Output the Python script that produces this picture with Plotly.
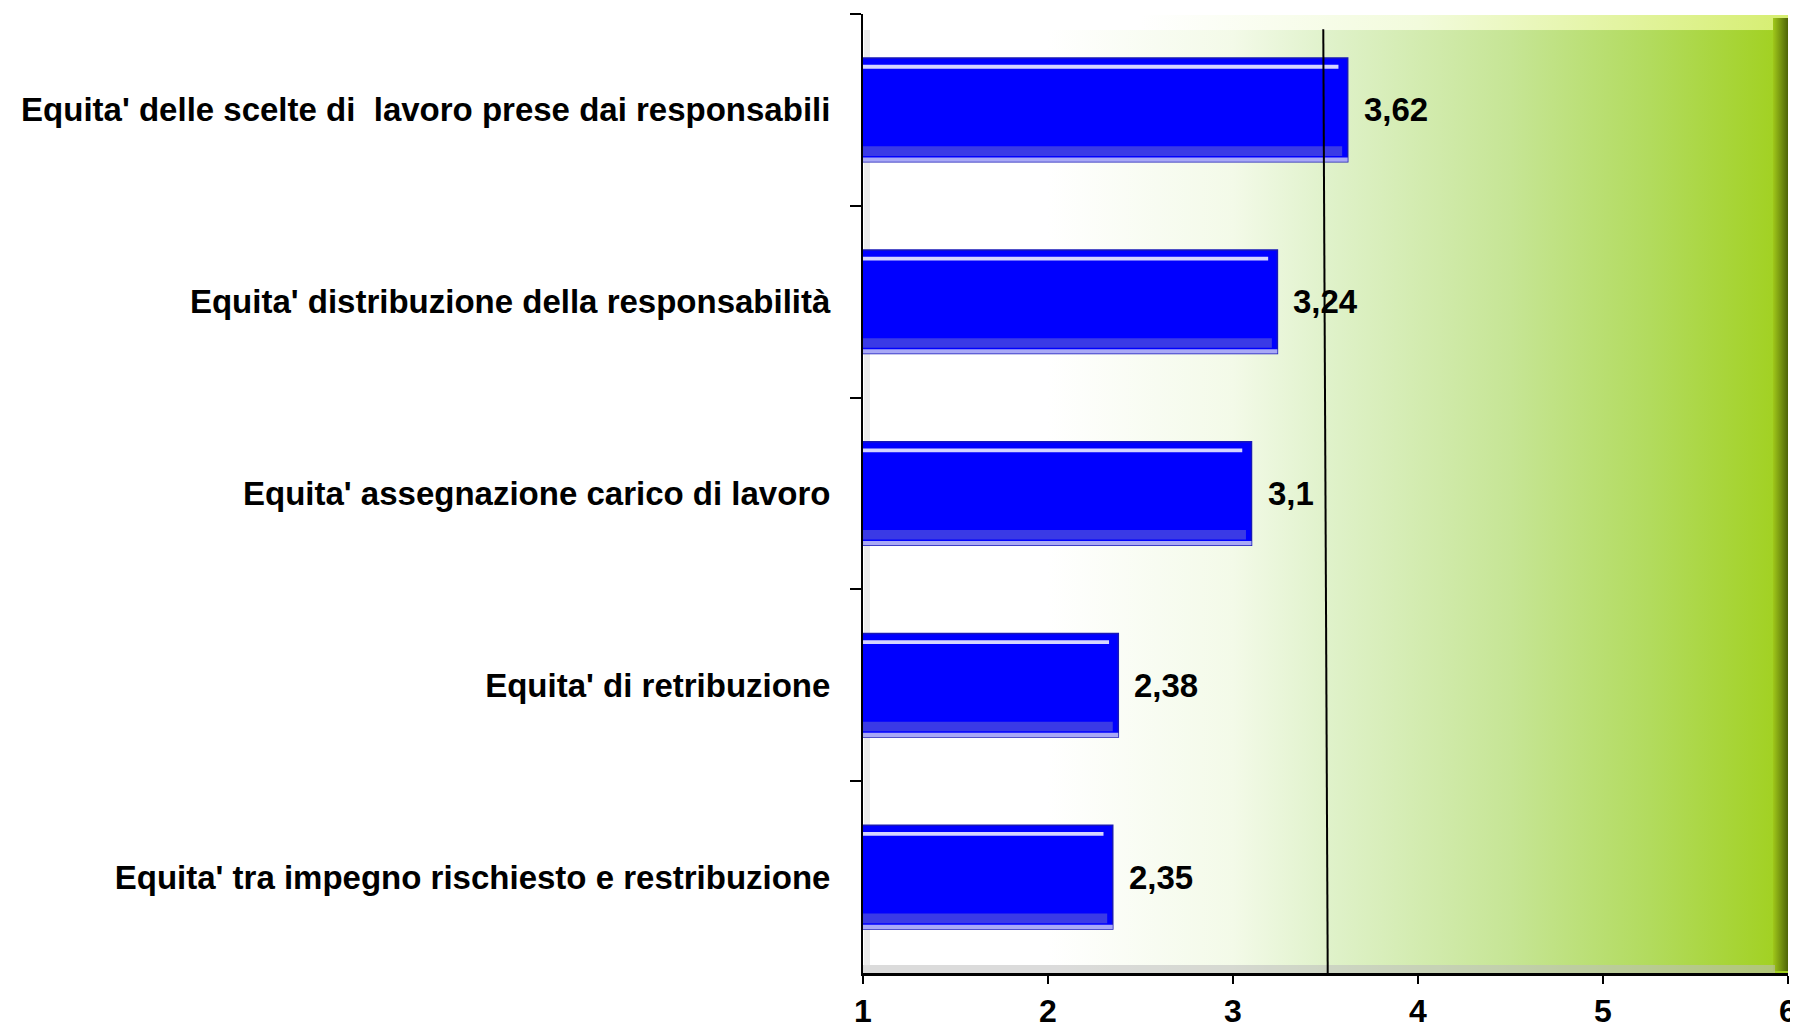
import base64
import plotly.graph_objects as go

# categories top to bottom, mean scores
categories = [
    "Equita' delle scelte di  lavoro prese dai responsabili",
    "Equita' distribuzione della responsabilità",
    "Equita' assegnazione carico di lavoro",
    "Equita' di retribuzione",
    "Equita' tra impegno rischiesto e restribuzione",
]
values = [3.62, 3.24, 3.1, 2.38, 2.35]
reference_value = 3.5
x_ticks = [1, 2, 3, 4, 5, 6]

FONT = "Liberation Sans, Arial, sans-serif"

# gradient wall behind the bars (svg as background image)
svg = """<svg xmlns='http://www.w3.org/2000/svg' width='925' height='958' viewBox='0 0 925 958' preserveAspectRatio='none'>
<defs>
<linearGradient id='g' x1='0' x2='1' y1='0' y2='0'>
<stop offset='0' stop-color='#FFFFFF'/>
<stop offset='0.2' stop-color='#FFFFFF'/>
<stop offset='0.4' stop-color='#F3FAE8'/>
<stop offset='0.5' stop-color='#E0F2CB'/>
<stop offset='0.7' stop-color='#C6E595'/>
<stop offset='0.85' stop-color='#B2DB5E'/>
<stop offset='1' stop-color='#A0D01C'/>
</linearGradient>
<linearGradient id='t' x1='0' x2='1' y1='0' y2='0'>
<stop offset='0' stop-color='#FFFFFF'/>
<stop offset='0.3' stop-color='#FFFFFF'/>
<stop offset='0.6' stop-color='#F2FBDC'/>
<stop offset='1' stop-color='#D6EE70'/>
</linearGradient>
<linearGradient id='r' x1='0' x2='1' y1='0' y2='0'>
<stop offset='0' stop-color='#A0C81A'/>
<stop offset='1' stop-color='#4E6408'/>
</linearGradient>
</defs>
<rect x='0' y='1' width='925' height='15' fill='url(#t)'/>
<rect x='0' y='16' width='925' height='942' fill='url(#g)'/>
<rect x='910' y='4' width='15' height='952' fill='url(#r)'/>
<rect x='0' y='950' width='912' height='8' fill='#BEBEBE' fill-opacity='0.55'/>
<rect x='1' y='16' width='6' height='936' fill='#DDDDDD' fill-opacity='0.6'/>
</svg>"""
bg_src = "data:image/svg+xml;base64," + base64.b64encode(svg.encode("utf-8")).decode()

fig = go.Figure()

# main bars
fig.add_trace(go.Bar(
    x=values, y=categories, orientation="h", width=0.54,
    marker=dict(color="#0000FF", line=dict(color="#1818B8", width=1.5)),
    hoverinfo="skip", showlegend=False,
))
# bevel: lower darker band
fig.add_trace(go.Bar(
    x=[v - 0.03 for v in values], y=categories, orientation="h",
    width=0.05, offset=0.19,
    marker=dict(color="#3A3AE6", line=dict(width=0)),
    hoverinfo="skip", showlegend=False,
))
# bevel: bottom light shadow
fig.add_trace(go.Bar(
    x=values, y=categories, orientation="h",
    width=0.022, offset=0.248,
    marker=dict(color="#A8A8F6", line=dict(width=0)),
    hoverinfo="skip", showlegend=False,
))
# bevel: top highlight
fig.add_trace(go.Bar(
    x=[v - 0.05 for v in values], y=categories, orientation="h",
    width=0.02, offset=-0.235,
    marker=dict(color="#D4D4FF", line=dict(width=0)),
    hoverinfo="skip", showlegend=False,
))

# value labels
for cat, v in zip(categories, values):
    fig.add_annotation(
        x=v, y=cat, text=f"{v:g}".replace(".", ","), showarrow=False,
        xanchor="left", yanchor="middle", xshift=14,
        font=dict(family=FONT, size=33, color="black", weight="bold"),
    )

# reference line
fig.add_shape(
    type="line", xref="x", yref="paper",
    x0=reference_value + 0.012, x1=reference_value - 0.012, y0=0, y1=0.984,
    line=dict(color="black", width=2),
)

# page body has an 8px margin, so the figure is 8px smaller and shifted
fig.update_layout(
    width=1790, height=1020,
    margin=dict(l=855, r=10, t=6, b=55),
    paper_bgcolor="white", plot_bgcolor="rgba(0,0,0,0)",
    barmode="overlay", showlegend=False,
    font=dict(family=FONT, size=33, color="black", weight="bold"),
    images=[dict(
        source=bg_src, xref="paper", yref="paper", x=0, y=1,
        sizex=1, sizey=1, xanchor="left", yanchor="top",
        sizing="stretch", layer="below",
    )],
)

fig.update_xaxes(
    range=[1, 6], tickvals=x_ticks, showgrid=False, zeroline=False,
    showline=True, linecolor="black", linewidth=3, automargin=False,
    ticks="outside", ticklen=8, tickwidth=2, tickcolor="black",
    tickfont=dict(family=FONT, size=32, color="black", weight="bold"),
    ticklabelstandoff=0,
)
fig.update_yaxes(
    type="category", autorange="reversed", tickson="boundaries",
    showgrid=False, zeroline=False, automargin=False,
    showline=True, linecolor="black", linewidth=2,
    ticks="outside", ticklen=11, tickwidth=2, tickcolor="black",
    tickfont=dict(family=FONT, size=33, color="black", weight="bold"),
    ticklabelstandoff=24,
)

fig.write_html("out.html")
